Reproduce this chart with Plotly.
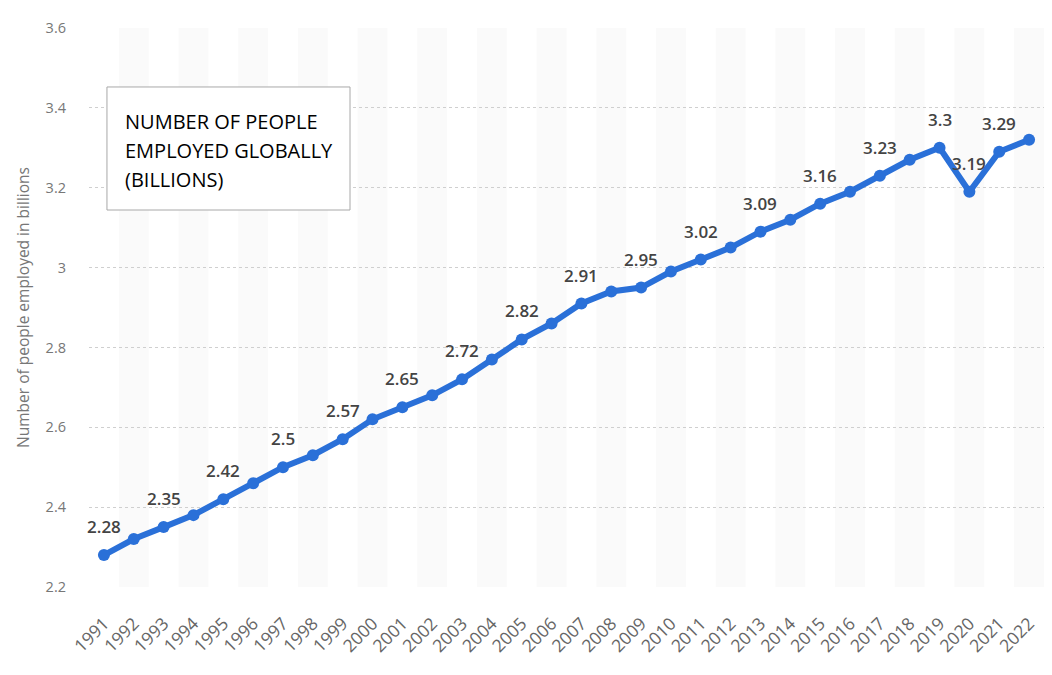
import plotly.graph_objects as go

# Global employment, billions of people
years = list(range(1991, 2023))
employed = [2.28, 2.32, 2.35, 2.38, 2.42, 2.46, 2.50, 2.53, 2.57, 2.62,
            2.65, 2.68, 2.72, 2.77, 2.82, 2.86, 2.91, 2.94, 2.95, 2.99,
            3.02, 3.05, 3.09, 3.12, 3.16, 3.19, 3.23, 3.27, 3.30, 3.19,
            3.29, 3.32]

# years that carry a value label in the original
labelled_years = [1991, 1993, 1995, 1997, 1999, 2001, 2003, 2005, 2007, 2009,
                  2011, 2013, 2015, 2017, 2019, 2020, 2021]

y_ticks = [2.2, 2.4, 2.6, 2.8, 3.0, 3.2, 3.4, 3.6]
y_tick_text = ["2.2", "2.4", "2.6", "2.8", "3", "3.2", "3.4", "3.6"]

box_lines = ["NUMBER OF PEOPLE", "EMPLOYED GLOBALLY", "(BILLIONS)"]

blue = "#2a70d8"

fig = go.Figure()

fig.add_trace(go.Scatter(
    x=years,
    y=employed,
    mode="lines+markers",
    line=dict(color=blue, width=6),
    marker=dict(color=blue, size=12),
    hoverinfo="x+y",
    showlegend=False,
))

# alternating column bands on even years
for yr in years:
    if yr % 2 == 0:
        fig.add_shape(type="rect", xref="x", yref="paper",
                      x0=yr - 0.5, x1=yr + 0.5, y0=0, y1=1,
                      fillcolor="#fafafa", line_width=0, layer="below")

# value labels
for yr, val in zip(years, employed):
    if yr in labelled_years:
        fig.add_annotation(
            x=yr, y=val, text=f"{val:g}", showarrow=False,
            yanchor="bottom", yshift=15,
            font=dict(family="Open Sans", size=17, color="#444444", weight=600),
        )

# title box, one annotation per line to get the wider line spacing
fig.add_shape(type="rect", xref="paper", yref="paper",
              x0=0.0188, x1=0.2733, y0=0.6744, y1=0.8945,
              fillcolor="white", line=dict(color="#a8a8a8", width=1))
for i, line in enumerate(box_lines):
    fig.add_annotation(
        xref="paper", yref="paper", x=0.0356, y=0.8336 - i * 0.0519,
        xanchor="left", yanchor="middle", align="left", showarrow=False,
        text=line,
        font=dict(family="Open Sans", size=20, color="#000000"),
    )

# page body has an 8px margin, so the figure is sized to fit inside it
fig.update_layout(
    width=1036, height=659,
    margin=dict(l=81, r=0, t=20, b=80),
    plot_bgcolor="white",
    paper_bgcolor="white",
    font=dict(family="Open Sans", color="#666666"),
    xaxis=dict(
        range=[1990.5, 2022.5],
        tickvals=years,
        ticktext=[str(y) for y in years],
        tickangle=-45,
        tickfont=dict(size=17.5, color="#666666"),
        showgrid=False, zeroline=False, showline=False, ticks="",
        ticklabelstandoff=22,
    ),
    yaxis=dict(
        range=[2.2, 3.6],
        tickvals=y_ticks,
        ticktext=y_tick_text,
        tickfont=dict(size=14.5, color="#777777"),
        showgrid=True, gridcolor="#cfcfcf", griddash="dot", gridwidth=1,
        zeroline=False, showline=False, ticks="",
        ticklabelstandoff=22,
        title=dict(text="Number of people employed in billions",
                   font=dict(size=15.5, color="#777777"), standoff=12),
    ),
)

fig.write_html("out.html")
